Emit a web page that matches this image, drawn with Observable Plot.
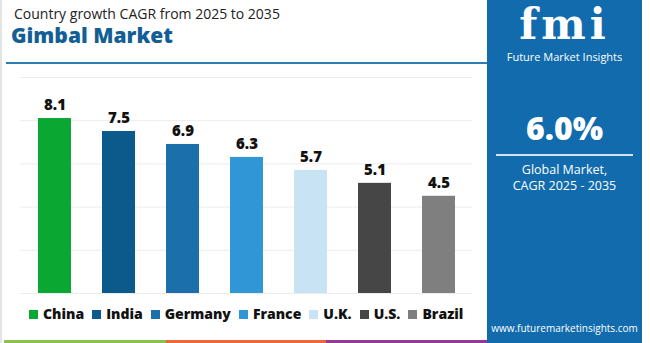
<!DOCTYPE html>
<html><head><meta charset="utf-8">
<script src="https://cdn.jsdelivr.net/npm/d3@7"></script>
<script src="https://cdn.jsdelivr.net/npm/@observablehq/plot@0.6"></script>
<style>
html,body{margin:0;padding:0;background:#fff;}
#wrap{position:relative;width:650px;height:343px;overflow:hidden;font-family:"Open Sans",sans-serif;}
.abs{position:absolute;}
</style></head><body>
<div id="wrap"></div>
<script>
const countries = ["China","India","Germany","France","U.K.","U.S.","Brazil"];
const cagr = [8.1,7.5,6.9,6.3,5.7,5.1,4.5];
const colors = ["#0aa832","#0c5a8c","#1b6fab","#3196d6","#c8e4f4","#464646","#7f7f7f"];
const yTicks = [0,2,4,6,8,10];
const titleTop = "Country growth CAGR from 2025 to 2035";
const titleMain = "Gimbal Market";
const globalValue = "6.0%";
const globalLabel = ["Global Market,","CAGR 2025 - 2035"];

const data = countries.map((c,i)=>({country:c, value:cagr[i]}));
const wrap = document.getElementById("wrap");

const chart = Plot.plot({
  width: 472, height: 343,
  marginLeft: 20, marginRight: 0, marginTop: 77, marginBottom: 50,
  style:{fontFamily:"'Open Sans',sans-serif", background:"transparent"},
  x:{domain:countries, paddingInner:0.49, paddingOuter:0.24, axis:null},
  y:{domain:[0,10], axis:null},
  color:{domain:countries, range:colors},
  marks:[
    Plot.ruleY(yTicks, {stroke:"#ececec", strokeWidth:1}),
    Plot.barY(data, {x:"country", y:"value", fill:"country"}),
    Plot.text(data, {x:"country", y:"value", text:d=>d.value.toFixed(1), dy:-13, fontSize:15, fontWeight:800, fill:"#111"})
  ]
});
chart.style.position="absolute"; chart.style.left="0px"; chart.style.top="0px";
wrap.appendChild(chart);

function div(html, css){const d=document.createElement("div");d.className="abs";d.innerHTML=html;Object.assign(d.style,css);wrap.appendChild(d);return d;}

// left border
div("",{left:"0px",top:"0px",width:"2px",height:"343px",background:"#e4e4e4"});
// titles
div(titleTop,{left:"14px",top:"6px",fontSize:"14px",lineHeight:"16px",color:"#222",whiteSpace:"nowrap"});
div(titleMain,{left:"11px",top:"24px",fontSize:"21px",lineHeight:"22px",fontWeight:"800",color:"#135f95",whiteSpace:"nowrap"});
div("",{left:"6px",top:"62px",width:"481px",height:"2px",background:"#2f7db5"});

// right panel
div("",{left:"487px",top:"0px",width:"155px",height:"343px",background:"#116bad"});
div("",{left:"642px",top:"0px",width:"8px",height:"343px",background:"#fff"});
div("fmi",{left:"487px",width:"155px",top:"0px",textAlign:"center",fontSize:"42px",lineHeight:"50px",fontWeight:"800",color:"#fff",fontFamily:"'DejaVu Serif',serif",letterSpacing:"4px"});
div("Future Market Insights",{left:"487px",width:"155px",top:"50px",textAlign:"center",fontSize:"11px",lineHeight:"13px",color:"#fff"});
div(globalValue,{left:"487px",width:"155px",top:"110px",textAlign:"center",fontSize:"32px",lineHeight:"36px",fontWeight:"800",color:"#fff"});
div("",{left:"496px",top:"154px",width:"137px",height:"1.5px",background:"#cfe3f2"});
div(globalLabel.join("<br>"),{left:"487px",width:"155px",top:"162px",textAlign:"center",fontSize:"12.5px",lineHeight:"16px",color:"#fff"});
div("www.futuremarketinsights.com",{left:"487px",width:"155px",top:"321px",textAlign:"center",fontSize:"10px",lineHeight:"14px",color:"#fff"});

// legend
const leg = div("",{left:"29px",top:"306px",display:"flex",alignItems:"center",whiteSpace:"nowrap"});
countries.forEach((c,i)=>{
  const it=document.createElement("span");
  it.style.cssText="display:inline-flex;align-items:center;margin-right:8px;font-size:14px;line-height:16px;font-weight:800;color:#111;";
  it.innerHTML=`<span style="display:inline-block;width:9px;height:9px;background:${colors[i]};margin-right:5px"></span>${c}`;
  leg.appendChild(it);
});

// bottom strips
div("",{left:"4px",top:"340px",width:"162px",height:"3px",background:"#8cc152"});
div("",{left:"166px",top:"340px",width:"160px",height:"3px",background:"#e8693a"});
div("",{left:"326px",top:"340px",width:"161px",height:"3px",background:"#8e3a96"});
</script>
</body></html>
